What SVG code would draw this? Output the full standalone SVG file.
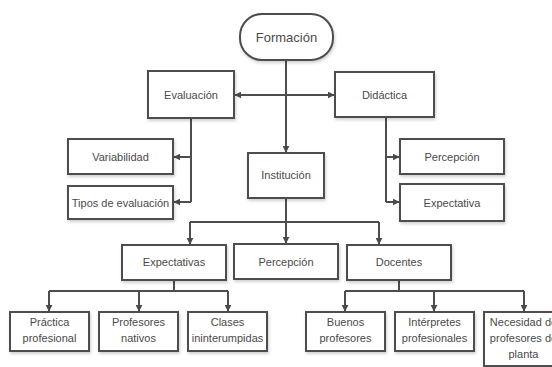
<svg xmlns="http://www.w3.org/2000/svg" width="552" height="367" viewBox="0 0 552 367">
<defs>
<marker id="arr" viewBox="0 0 10 10" refX="9" refY="5" markerWidth="7" markerHeight="7" markerUnits="userSpaceOnUse" orient="auto">
<path d="M0,0 L10,5 L0,10 z" fill="#4a4a4a"/>
</marker>
<filter id="sh" x="-10%" y="-10%" width="130%" height="140%">
<feDropShadow dx="1" dy="2" stdDeviation="1.5" flood-color="#000" flood-opacity="0.18"/>
</filter>
</defs>
<style>
.box{fill:#fff;stroke:#4d4d4d;stroke-width:2;filter:url(#sh)}
.t{font-family:"Liberation Sans",Arial,sans-serif;font-size:11px;fill:#4a4a4a;text-anchor:middle}
.big{font-size:13px}
.c{fill:none;stroke:#4d4d4d;stroke-width:2}
.a{marker-end:url(#arr)}
</style>
<rect width="552" height="367" fill="#fff"/>
<g id="connectors">
<path class="c a" d="M286,60 V152"/>
<path class="c a" d="M286,95 H235"/>
<path class="c a" d="M286,95 H334"/>
<path class="c" d="M191,118 V202"/>
<path class="c a" d="M191,157 H174"/>
<path class="c a" d="M191,202 H174"/>
<path class="c" d="M386,118 V202"/>
<path class="c a" d="M386,157 H399"/>
<path class="c a" d="M386,202 H399"/>
<path class="c" d="M286,198 V222 M190,222 H379"/>
<path class="c a" d="M190,222 V244"/>
<path class="c a" d="M286,222 V243"/>
<path class="c a" d="M379,222 V244"/>
<path class="c" d="M174,280 V291 M49,291 H228"/>
<path class="c a" d="M49,291 V311"/>
<path class="c a" d="M139,291 V311"/>
<path class="c a" d="M228,291 V311"/>
<path class="c" d="M399,280 V291 M345,291 H524"/>
<path class="c a" d="M345,291 V311"/>
<path class="c a" d="M434,291 V311"/>
<path class="c a" d="M524,291 V311"/>
</g>
<g id="formacion"><rect class="box" x="240" y="14" width="93" height="46" rx="22"/><text class="t big" x="286.5" y="41.5">Formación</text></g>
<g id="evaluacion"><rect class="box" x="148" y="71" width="86" height="47"/><text class="t" x="191" y="98.5">Evaluación</text></g>
<g id="didactica"><rect class="box" x="335" y="72" width="99" height="45"/><text class="t" x="384.5" y="98.5">Didáctica</text></g>
<g id="variabilidad"><rect class="box" x="68" y="139" width="105" height="35"/><text class="t" x="120.5" y="160.5">Variabilidad</text></g>
<g id="tipos"><rect class="box" x="68" y="186" width="105" height="33"/><text class="t" x="120.5" y="206.5">Tipos de evaluación</text></g>
<g id="institucion"><rect class="box" x="248" y="153" width="76" height="45"/><text class="t" x="286" y="179">Institución</text></g>
<g id="percepcion1"><rect class="box" x="400" y="139" width="104" height="35"/><text class="t" x="452" y="160.5">Percepción</text></g>
<g id="expectativa"><rect class="box" x="400" y="184" width="104" height="37"/><text class="t" x="452" y="206.5">Expectativa</text></g>
<g id="expectativas"><rect class="box" x="122" y="245" width="104" height="35"/><text class="t" x="174" y="266">Expectativas</text></g>
<g id="percepcion2"><rect class="box" x="234" y="244" width="104" height="35"/><text class="t" x="286" y="265.5">Percepción</text></g>
<g id="docentes"><rect class="box" x="347" y="245" width="104" height="35"/><text class="t" x="399" y="266">Docentes</text></g>
<g id="practica"><rect class="box" x="10" y="312" width="79" height="39"/><text class="t" x="49.5" y="326">Práctica</text><text class="t" x="49.5" y="342">profesional</text></g>
<g id="nativos"><rect class="box" x="99" y="312" width="79" height="39"/><text class="t" x="138.5" y="326">Profesores</text><text class="t" x="138.5" y="342">nativos</text></g>
<g id="clases"><rect class="box" x="188" y="312" width="79" height="39"/><text class="t" x="227.5" y="326">Clases</text><text class="t" x="227.5" y="342">ininterumpidas</text></g>
<g id="buenos"><rect class="box" x="306" y="312" width="79" height="39"/><text class="t" x="345.5" y="326">Buenos</text><text class="t" x="345.5" y="342">profesores</text></g>
<g id="interpretes"><rect class="box" x="395" y="312" width="79" height="39"/><text class="t" x="434.5" y="326">Intérpretes</text><text class="t" x="434.5" y="342">profesionales</text></g>
<g id="necesidad"><rect class="box" x="484" y="312" width="79" height="54"/><text class="t" x="523.5" y="326">Necesidad de</text><text class="t" x="523.5" y="342">profesores de</text><text class="t" x="523.5" y="358">planta</text></g>
</svg>
